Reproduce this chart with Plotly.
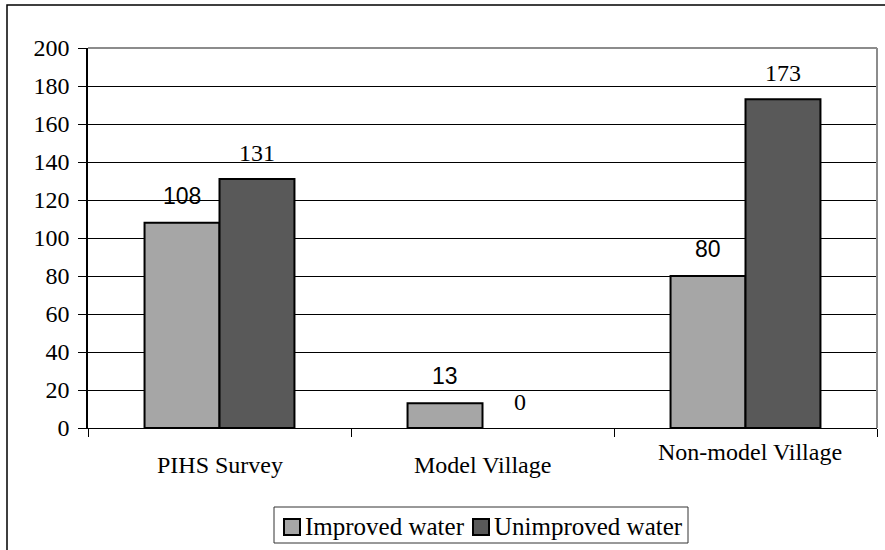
import plotly.graph_objects as go

categories = ["PIHS Survey", "Model Village", "Non-model Village"]
improved = [108, 13, 80]
unimproved = [131, 0, 173]
series_names = ["Improved water", "Unimproved water"]
y_ticks = [0, 20, 40, 60, 80, 100, 120, 140, 160, 180, 200]

SERIF = "Liberation Serif"
SANS = "Liberation Sans"
COLORS = ["#A6A6A6", "#595959"]

fig = go.Figure()
for vals, name, color in zip([improved, unimproved], series_names, COLORS):
    fig.add_trace(go.Bar(
        x=categories, y=vals, name=name, showlegend=False,
        marker=dict(color=color,
                    line=dict(color="black", width=[2 if v > 0 else 0 for v in vals])),
    ))

# plot geometry (px)
L, R, T, B = 88, 8, 48, 122
W, H = 885, 550
pw = W - L - R
ph = H - T - B
bargap = 0.43
bar_px = pw / len(categories) * (1 - bargap) / 2


def px_x(p):
    return (p - L) / pw


def px_y(p):
    return (H - B - p) / ph


annotations = []
for c, v in zip(categories, improved):
    annotations.append(dict(x=c, y=v, xref="x", yref="y", text=str(v), showarrow=False,
                            xshift=-bar_px / 2, yshift=27,
                            font=dict(family=SANS, size=23, color="black")))
for c, v in zip(categories, unimproved):
    annotations.append(dict(x=c, y=v, xref="x", yref="y", text=str(v), showarrow=False,
                            xshift=bar_px / 2, yshift=26,
                            font=dict(family=SERIF, size=24, color="black")))
label_shift = [-37, -37, -24]
label_xshift = [0, 0, 4]
for c, s, xs in zip(categories, label_shift, label_xshift):
    annotations.append(dict(x=c, y=0, xref="x", yref="paper", text=c, showarrow=False,
                            yanchor="middle", yshift=s, xshift=xs,
                            font=dict(family=SERIF, size=24, color="black")))

shapes = [
    # outer chart border (extends past the canvas on right and bottom)
    dict(type="rect", xref="paper", yref="paper", x0=px_x(7), x1=px_x(900),
         y0=px_y(570), y1=px_y(5), line=dict(color="black", width=1.5), layer="below"),
    # plot frame top & right in gray
    dict(type="line", xref="paper", yref="paper", x0=0, x1=1, y0=1, y1=1,
         line=dict(color="#8C8C8C", width=2), layer="above"),
    dict(type="line", xref="paper", yref="paper", x0=1, x1=1, y0=0, y1=1,
         line=dict(color="#8C8C8C", width=2), layer="above"),
    # legend box
    dict(type="rect", xref="paper", yref="paper", x0=px_x(274), x1=px_x(688),
         y0=px_y(543), y1=px_y(507), line=dict(color="#333333", width=1),
         fillcolor="white", layer="above"),
]

# legend entries: swatch + label
legend_swatch_x = [284, 473]
for name, color, sx in zip(series_names, COLORS, legend_swatch_x):
    shapes.append(dict(type="rect", xref="paper", yref="paper",
                       x0=px_x(sx), x1=px_x(sx + 16), y0=px_y(535), y1=px_y(519),
                       line=dict(color="black", width=2), fillcolor=color, layer="above"))
    annotations.append(dict(x=px_x(sx + 19), y=px_y(526), xref="paper", yref="paper",
                            text=name, showarrow=False, xanchor="left", yanchor="middle",
                            font=dict(family=SERIF, size=25, color="black")))

fig.update_layout(
    width=W, height=H,
    margin=dict(l=L, r=R, t=T, b=B, pad=0, autoexpand=False),
    paper_bgcolor="white", plot_bgcolor="white",
    barmode="group", bargap=bargap, bargroupgap=0,
    font=dict(family=SERIF, size=24, color="black"),
    annotations=annotations, shapes=shapes,
    showlegend=False,
    xaxis=dict(showticklabels=False, ticks="outside", tickson="boundaries", ticklen=8,
               tickcolor="black", showline=True, linecolor="black", linewidth=1,
               showgrid=False, zeroline=False, automargin=False),
    yaxis=dict(range=[0, 200], tickvals=y_ticks, ticks="outside", ticklen=8,
               tickcolor="black", showline=True, linecolor="black", linewidth=1.5,
               showgrid=True, gridcolor="black", gridwidth=1, zeroline=False,
               ticklabelstandoff=4, automargin=False,
               tickfont=dict(family=SERIF, size=24, color="black")),
)

fig.write_html(
    "out.html",
    config={"displayModeBar": False},
    post_script="document.body.style.margin='0';document.body.style.overflow='hidden';",
)
